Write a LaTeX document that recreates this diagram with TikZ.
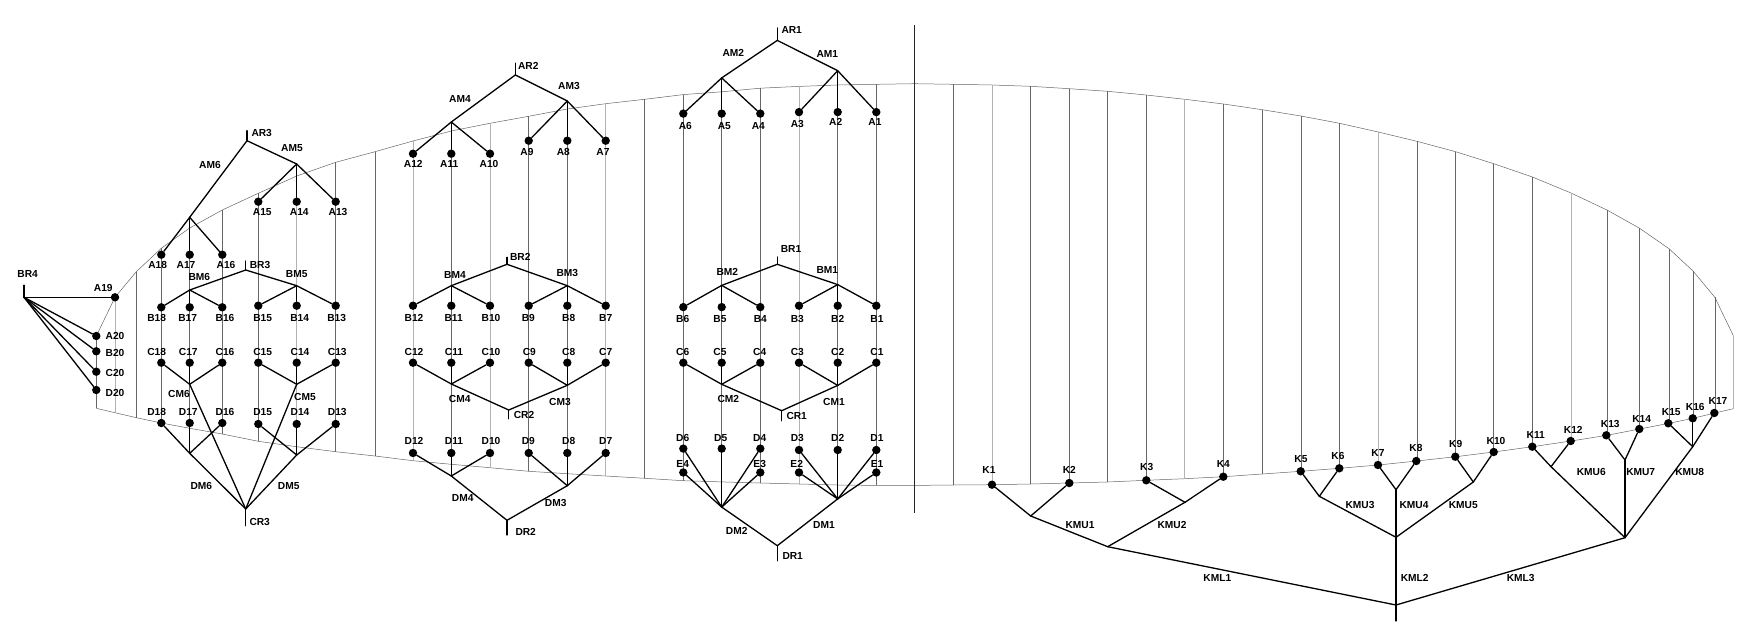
\documentclass[tikz,border=0pt]{standalone}
\usepackage{fontspec}
\setmainfont{Liberation Sans}
\tikzset{
	rib/.style={line width=0.5pt,draw=black!60},
	ribl/.style={line width=1pt,draw=black!30},
	tree/.style={line width=1.3pt,line cap=round,line join=round},
	pnt/.style={circle,fill=black,inner sep=0pt,minimum size=8.4pt},
	txt/.style={inner sep=0pt,font=\fontsize{10.2}{11}\selectfont\bfseries}
}
\begin{document}
\begin{tikzpicture}[x=1pt,y=-1pt]
		\useasboundingbox (0,0) rectangle (1754,642);
		\draw[rib] (96.3,336) -- (115,297.3) -- (136.3,271.7) -- (161.3,248.3) -- (189.7,228) -- (222.3,210) -- (258.3,193.3) -- (296.7,176) -- (335.7,162.3) -- (375,151.7) -- (413,141) -- (451.3,131) -- (490,123.3) -- (528.7,116.3) -- (567.3,109) -- (605.7,103.7) -- (644.7,99.3) -- (683.3,94.6) -- (721.7,91.8) -- (760.3,88.2) -- (799,86.4) -- (837.7,85) -- (876.3,84.3) -- (914.7,83.7) -- (953.4,84.3) -- (992,85) -- (1030.7,86.3) -- (1069.4,88.7) -- (1107.5,91.3) -- (1146.2,95) -- (1184.9,99.3) -- (1223.5,104) -- (1262.2,109.7) -- (1300.9,116) -- (1339.5,123.3) -- (1378.2,132) -- (1416.9,141.3) -- (1455.6,151.7) -- (1493.7,163.7) -- (1532.4,177) -- (1571,193) -- (1607,210) -- (1639.6,228.3) -- (1669,248.7) -- (1693,271) -- (1714.8,297.3) -- (1733.3,335.7);
		\draw[rib] (96.3,408.3) -- (115,412.7) -- (136.3,417.7) -- (161.3,423) -- (189.7,428.3) -- (222.3,434) -- (258.3,441.3) -- (296.7,446.7) -- (335.7,451.7) -- (375,456) -- (413,460.7) -- (451.3,464.3) -- (490,467.7) -- (528.7,471.3) -- (567.3,473.7) -- (605.7,476) -- (644.7,478.3) -- (683.3,480.7) -- (721.7,481.9) -- (760.3,483) -- (799,484) -- (837.7,485) -- (876.3,485.4) -- (914.7,485.4) -- (953.4,485) -- (992,484.7) -- (1030.7,484) -- (1069.4,483) -- (1107.5,482) -- (1146.2,480.3) -- (1184.9,478.7) -- (1223.5,476.7) -- (1262.2,474) -- (1300.9,471.3) -- (1339.5,468.3) -- (1378.2,465) -- (1416.9,461) -- (1455.6,456.7) -- (1493.7,452) -- (1532.4,446.7) -- (1571,441) -- (1607,435.3) -- (1639.6,429) -- (1669,423.3) -- (1693,418.3) -- (1714.8,413) -- (1733.3,408.7);
		\draw[rib] (96.3,336) -- (96.3,408.3);
		\draw[ribl] (115,297.3) -- (115,412.7);
		\draw[rib] (136.3,271.7) -- (136.3,417.7);
		\draw[rib] (161.3,248.3) -- (161.3,423);
		\draw[rib] (189.7,228) -- (189.7,428.3);
		\draw[rib] (222.3,210) -- (222.3,434);
		\draw[rib] (258.3,193.3) -- (258.3,441.3);
		\draw[ribl] (296.7,176) -- (296.7,446.7);
		\draw[rib] (335.7,162.3) -- (335.7,451.7);
		\draw[rib] (375,151.7) -- (375,456);
		\draw[ribl] (413,141) -- (413,460.7);
		\draw[rib] (451.3,131) -- (451.3,464.3);
		\draw[ribl] (490,123.3) -- (490,467.7);
		\draw[rib] (528.7,116.3) -- (528.7,471.3);
		\draw[rib] (567.3,109) -- (567.3,473.7);
		\draw[ribl] (605.7,103.7) -- (605.7,476);
		\draw[rib] (644.7,99.3) -- (644.7,478.3);
		\draw[rib] (683.3,94.6) -- (683.3,480.7);
		\draw[rib] (721.7,91.8) -- (721.7,481.9);
		\draw[rib] (760.3,88.2) -- (760.3,483);
		\draw[ribl] (799,86.4) -- (799,484);
		\draw[rib] (837.7,85) -- (837.7,485);
		\draw[rib] (876.3,84.3) -- (876.3,485.4);
		\draw[line width=0.45pt,draw=black!85] (914.7,25) -- (914.7,512.5);
		\draw[rib] (953.4,84.3) -- (953.4,485);
		\draw[ribl] (992,85) -- (992,484.7);
		\draw[rib] (1030.7,86.3) -- (1030.7,484);
		\draw[rib] (1069.4,88.7) -- (1069.4,483);
		\draw[rib] (1107.5,91.3) -- (1107.5,482);
		\draw[rib] (1146.2,95) -- (1146.2,480.3);
		\draw[ribl] (1184.9,99.3) -- (1184.9,478.7);
		\draw[rib] (1223.5,104) -- (1223.5,476.7);
		\draw[rib] (1262.2,109.7) -- (1262.2,474);
		\draw[rib] (1300.9,116) -- (1300.9,471.3);
		\draw[rib] (1339.5,123.3) -- (1339.5,468.3);
		\draw[ribl] (1378.2,132) -- (1378.2,465);
		\draw[rib] (1416.9,141.3) -- (1416.9,461);
		\draw[rib] (1455.6,151.7) -- (1455.6,456.7);
		\draw[rib] (1493.7,163.7) -- (1493.7,452);
		\draw[rib] (1532.4,177) -- (1532.4,446.7);
		\draw[ribl] (1571,193) -- (1571,441);
		\draw[rib] (1607,210) -- (1607,435.3);
		\draw[rib] (1639.6,228.3) -- (1639.6,429);
		\draw[rib] (1669,248.7) -- (1669,423.3);
		\draw[rib] (1693,271) -- (1693,418.3);
		\draw[rib] (1714.8,297.3) -- (1714.8,413);
		\draw[ribl] (1733.3,335.7) -- (1733.3,408.7);
		\coordinate (sAR1) at (777.3,27.9);
		\coordinate (AR1) at (777.3,40.4);
		\coordinate (AM2) at (721.7,77.9);
		\coordinate (AM1) at (837.7,70.7);
		\coordinate (sBR1) at (777.3,257);
		\coordinate (BR1) at (777.3,264.3);
		\coordinate (BM2) at (721.7,285.4);
		\coordinate (BM1) at (837.7,284.6);
		\coordinate (CM2) at (721.7,384.3);
		\coordinate (CM1) at (837.7,385.4);
		\coordinate (CR1) at (781.7,410.7);
		\coordinate (sCR1) at (781.7,420.7);
		\coordinate (DM2) at (721.7,507.1);
		\coordinate (DM1) at (837.7,498.9);
		\coordinate (DR1) at (777.3,545.7);
		\coordinate (sDR1) at (777.3,560.7);
		\coordinate (sAR2) at (515.3,63.3);
		\coordinate (AR2) at (515.3,75);
		\coordinate (AM4) at (451.3,122);
		\coordinate (AM3) at (567.3,101);
		\coordinate (sBR2) at (507,257.3);
		\coordinate (BR2) at (507,264.3);
		\coordinate (BM4) at (451.3,285.7);
		\coordinate (BM3) at (567.3,285.7);
		\coordinate (CM4) at (451.3,384);
		\coordinate (CM3) at (567.3,385.3);
		\coordinate (CR2) at (508.7,410);
		\coordinate (sCR2) at (508.7,418.7);
		\coordinate (DM4) at (451.3,476);
		\coordinate (DM3) at (567.3,485.7);
		\coordinate (DR2) at (507,520.3);
		\coordinate (sDR2) at (507,535);
		\coordinate (sAR3) at (247,130.7);
		\coordinate (AR3) at (247,140.7);
		\coordinate (AM6) at (189.7,217.3);
		\coordinate (AM5) at (296.7,164);
		\coordinate (sBR3) at (245.7,261);
		\coordinate (BR3) at (245.7,270);
		\coordinate (BM6) at (189.7,290);
		\coordinate (BM5) at (296.7,285.7);
		\coordinate (CM6) at (189.7,384.3);
		\coordinate (CM5) at (296.7,384.3);
		\coordinate (DM6) at (189.7,453.3);
		\coordinate (DM5) at (296.7,455);
		\coordinate (CR3) at (245.7,509);
		\coordinate (sCR3) at (245.7,525.7);
		\coordinate (sBR4) at (24,285.3);
		\coordinate (BR4) at (24,297.3);
		\coordinate (KU1) at (1030.7,516);
		\coordinate (KU2) at (1185,502.3);
		\coordinate (KL1) at (1107.7,546.7);
		\coordinate (KU3) at (1319.3,496.3);
		\coordinate (KU4) at (1396,489.7);
		\coordinate (KU5) at (1473.3,482);
		\coordinate (KJ2) at (1396,537.3);
		\coordinate (KL2) at (1396,605);
		\coordinate (sKL2) at (1396,621);
		\coordinate (KU6) at (1551,466.7);
		\coordinate (KU7) at (1625,460);
		\coordinate (KU8) at (1692.7,446.7);
		\coordinate (KJ3) at (1625,537.7);
		\node[pnt] (A1) at (876.3,112.1) {};
		\node[pnt] (A2) at (837.7,112.1) {};
		\node[pnt] (A3) at (799,112.1) {};
		\node[pnt] (A4) at (760.3,113.6) {};
		\node[pnt] (A5) at (721.7,113.6) {};
		\node[pnt] (A6) at (683.3,113.6) {};
		\node[pnt] (A7) at (605.7,140.7) {};
		\node[pnt] (A8) at (567.3,140.7) {};
		\node[pnt] (A9) at (528.7,140.7) {};
		\node[pnt] (A10) at (490,153.7) {};
		\node[pnt] (A11) at (451.3,153.7) {};
		\node[pnt] (A12) at (413,153.7) {};
		\node[pnt] (A13) at (335.7,201.7) {};
		\node[pnt] (A14) at (296.7,201.7) {};
		\node[pnt] (A15) at (258.3,201.7) {};
		\node[pnt] (A16) at (222.3,254.7) {};
		\node[pnt] (A17) at (189.7,254.7) {};
		\node[pnt] (A18) at (161.3,254.7) {};
		\node[pnt] (A19) at (115,297.3) {};
		\node[pnt] (A20) at (96.3,336) {};
		\node[pnt] (B20) at (96.3,351.3) {};
		\node[pnt] (C20) at (96.3,371.7) {};
		\node[pnt] (D20) at (96.3,390) {};
		\node[pnt] (B1) at (876.3,305.7) {};
		\node[pnt] (B2) at (837.7,305.7) {};
		\node[pnt] (B3) at (799,305.7) {};
		\node[pnt] (B4) at (760.3,307.1) {};
		\node[pnt] (B5) at (721.7,307.1) {};
		\node[pnt] (B6) at (683.3,307.1) {};
		\node[pnt] (B7) at (605.7,305.7) {};
		\node[pnt] (B8) at (567.3,305.7) {};
		\node[pnt] (B9) at (528.7,305.7) {};
		\node[pnt] (B10) at (490,305.7) {};
		\node[pnt] (B11) at (451.3,305.7) {};
		\node[pnt] (B12) at (413,305.7) {};
		\node[pnt] (B13) at (335.7,305.7) {};
		\node[pnt] (B14) at (296.7,305.7) {};
		\node[pnt] (B15) at (258.3,305.7) {};
		\node[pnt] (B16) at (222.3,307.3) {};
		\node[pnt] (B17) at (189.7,307.3) {};
		\node[pnt] (B18) at (161.3,307.3) {};
		\node[pnt] (C1) at (876.3,362.7) {};
		\node[pnt] (C2) at (837.7,362.7) {};
		\node[pnt] (C3) at (799,362.7) {};
		\node[pnt] (C4) at (760.3,362.7) {};
		\node[pnt] (C5) at (721.7,362.7) {};
		\node[pnt] (C6) at (683.3,362.7) {};
		\node[pnt] (C7) at (605.7,362.7) {};
		\node[pnt] (C8) at (567.3,362.7) {};
		\node[pnt] (C9) at (528.7,362.7) {};
		\node[pnt] (C10) at (490,362.7) {};
		\node[pnt] (C11) at (451.3,362.7) {};
		\node[pnt] (C12) at (413,362.7) {};
		\node[pnt] (C13) at (335.7,362.7) {};
		\node[pnt] (C14) at (296.7,362.7) {};
		\node[pnt] (C15) at (258.3,362.7) {};
		\node[pnt] (C16) at (222.3,362.7) {};
		\node[pnt] (C17) at (189.7,362.7) {};
		\node[pnt] (C18) at (161.3,362.7) {};
		\node[pnt] (D1) at (876.3,450) {};
		\node[pnt] (D2) at (837.7,450) {};
		\node[pnt] (D3) at (799,450) {};
		\node[pnt] (D4) at (760.3,448.6) {};
		\node[pnt] (D5) at (721.7,448.6) {};
		\node[pnt] (D6) at (683.3,448.6) {};
		\node[pnt] (D7) at (605.7,453) {};
		\node[pnt] (D8) at (567.3,453) {};
		\node[pnt] (D9) at (528.7,453) {};
		\node[pnt] (D10) at (490,453) {};
		\node[pnt] (D11) at (451.3,453) {};
		\node[pnt] (D12) at (413,453) {};
		\node[pnt] (D13) at (335.7,424) {};
		\node[pnt] (D14) at (296.7,424) {};
		\node[pnt] (D15) at (258.3,424) {};
		\node[pnt] (D16) at (222.3,423) {};
		\node[pnt] (D17) at (189.7,423) {};
		\node[pnt] (D18) at (161.3,423) {};
		\node[pnt] (E1) at (876.3,472.5) {};
		\node[pnt] (E2) at (799,472.5) {};
		\node[pnt] (E3) at (760.3,472.5) {};
		\node[pnt] (E4) at (683.3,472.5) {};
		\node[pnt] (K1) at (992,484.7) {};
		\node[pnt] (K2) at (1069.3,483) {};
		\node[pnt] (K3) at (1146.3,480.3) {};
		\node[pnt] (K4) at (1223.3,476.7) {};
		\node[pnt] (K5) at (1300.7,471.3) {};
		\node[pnt] (K6) at (1339.3,468.3) {};
		\node[pnt] (K7) at (1378,465) {};
		\node[pnt] (K8) at (1416.3,461) {};
		\node[pnt] (K9) at (1455.3,456.7) {};
		\node[pnt] (K10) at (1493.7,452) {};
		\node[pnt] (K11) at (1532.3,446.7) {};
		\node[pnt] (K12) at (1570.7,441) {};
		\node[pnt] (K13) at (1606.3,435.3) {};
		\node[pnt] (K14) at (1639.3,429) {};
		\node[pnt] (K15) at (1668.3,423.3) {};
		\node[pnt] (K16) at (1692.7,418.3) {};
		\node[pnt] (K17) at (1714.3,413) {};
		\draw[tree] (sAR1) -- (AR1);
		\draw[tree] (AR1) -- (AM2);
		\draw[tree] (AR1) -- (AM1);
		\draw[tree] (AM2) -- (A6);
		\draw[tree] (AM2) -- (A5);
		\draw[tree] (AM2) -- (A4);
		\draw[tree] (AM1) -- (A3);
		\draw[tree] (AM1) -- (A2);
		\draw[tree] (AM1) -- (A1);
		\draw[tree] (sBR1) -- (BR1);
		\draw[tree] (BR1) -- (BM2);
		\draw[tree] (BR1) -- (BM1);
		\draw[tree] (BM2) -- (B6);
		\draw[tree] (BM2) -- (B5);
		\draw[tree] (BM2) -- (B4);
		\draw[tree] (BM1) -- (B3);
		\draw[tree] (BM1) -- (B2);
		\draw[tree] (BM1) -- (B1);
		\draw[tree] (sCR1) -- (CR1);
		\draw[tree] (CR1) -- (CM2);
		\draw[tree] (CR1) -- (CM1);
		\draw[tree] (CM2) -- (C6);
		\draw[tree] (CM2) -- (C5);
		\draw[tree] (CM2) -- (C4);
		\draw[tree] (CM1) -- (C3);
		\draw[tree] (CM1) -- (C2);
		\draw[tree] (CM1) -- (C1);
		\draw[tree] (sDR1) -- (DR1);
		\draw[tree] (DR1) -- (DM2);
		\draw[tree] (DR1) -- (DM1);
		\draw[tree] (DM2) -- (D6);
		\draw[tree] (DM2) -- (D5);
		\draw[tree] (DM2) -- (D4);
		\draw[tree] (DM2) -- (E4);
		\draw[tree] (DM2) -- (E3);
		\draw[tree] (DM1) -- (D3);
		\draw[tree] (DM1) -- (D2);
		\draw[tree] (DM1) -- (D1);
		\draw[tree] (DM1) -- (E2);
		\draw[tree] (DM1) -- (E1);
		\draw[tree] (sAR2) -- (AR2);
		\draw[tree] (AR2) -- (AM4);
		\draw[tree] (AR2) -- (AM3);
		\draw[tree] (AM4) -- (A12);
		\draw[tree] (AM4) -- (A11);
		\draw[tree] (AM4) -- (A10);
		\draw[tree] (AM3) -- (A9);
		\draw[tree] (AM3) -- (A8);
		\draw[tree] (AM3) -- (A7);
		\draw[tree] (sBR2) -- (BR2);
		\draw[tree] (BR2) -- (BM4);
		\draw[tree] (BR2) -- (BM3);
		\draw[tree] (BM4) -- (B12);
		\draw[tree] (BM4) -- (B11);
		\draw[tree] (BM4) -- (B10);
		\draw[tree] (BM3) -- (B9);
		\draw[tree] (BM3) -- (B8);
		\draw[tree] (BM3) -- (B7);
		\draw[tree] (sCR2) -- (CR2);
		\draw[tree] (CR2) -- (CM4);
		\draw[tree] (CR2) -- (CM3);
		\draw[tree] (CM4) -- (C12);
		\draw[tree] (CM4) -- (C11);
		\draw[tree] (CM4) -- (C10);
		\draw[tree] (CM3) -- (C9);
		\draw[tree] (CM3) -- (C8);
		\draw[tree] (CM3) -- (C7);
		\draw[tree] (sDR2) -- (DR2);
		\draw[tree] (DR2) -- (DM4);
		\draw[tree] (DR2) -- (DM3);
		\draw[tree] (DM4) -- (D12);
		\draw[tree] (DM4) -- (D11);
		\draw[tree] (DM4) -- (D10);
		\draw[tree] (DM3) -- (D9);
		\draw[tree] (DM3) -- (D8);
		\draw[tree] (DM3) -- (D7);
		\draw[tree] (sAR3) -- (AR3);
		\draw[tree] (AR3) -- (AM6);
		\draw[tree] (AR3) -- (AM5);
		\draw[tree] (AM6) -- (A18);
		\draw[tree] (AM6) -- (A17);
		\draw[tree] (AM6) -- (A16);
		\draw[tree] (AM5) -- (A15);
		\draw[tree] (AM5) -- (A14);
		\draw[tree] (AM5) -- (A13);
		\draw[tree] (sBR3) -- (BR3);
		\draw[tree] (BR3) -- (BM6);
		\draw[tree] (BR3) -- (BM5);
		\draw[tree] (BM6) -- (B18);
		\draw[tree] (BM6) -- (B17);
		\draw[tree] (BM6) -- (B16);
		\draw[tree] (BM5) -- (B15);
		\draw[tree] (BM5) -- (B14);
		\draw[tree] (BM5) -- (B13);
		\draw[tree] (sCR3) -- (CR3);
		\draw[tree] (CR3) -- (CM6);
		\draw[tree] (CR3) -- (CM5);
		\draw[tree] (CR3) -- (DM6);
		\draw[tree] (CR3) -- (DM5);
		\draw[tree] (CM6) -- (C18);
		\draw[tree] (CM6) -- (C17);
		\draw[tree] (CM6) -- (C16);
		\draw[tree] (CM5) -- (C15);
		\draw[tree] (CM5) -- (C14);
		\draw[tree] (CM5) -- (C13);
		\draw[tree] (DM6) -- (D18);
		\draw[tree] (DM6) -- (D17);
		\draw[tree] (DM6) -- (D16);
		\draw[tree] (DM5) -- (D15);
		\draw[tree] (DM5) -- (D14);
		\draw[tree] (DM5) -- (D13);
		\draw[tree] (sBR4) -- (BR4);
		\draw[tree] (BR4) -- (A19);
		\draw[tree] (BR4) -- (A20);
		\draw[tree] (BR4) -- (B20);
		\draw[tree] (BR4) -- (C20);
		\draw[tree] (BR4) -- (D20);
		\draw[tree] (K1) -- (KU1);
		\draw[tree] (K2) -- (KU1);
		\draw[tree] (KU1) -- (KL1);
		\draw[tree] (K3) -- (KU2);
		\draw[tree] (K4) -- (KU2);
		\draw[tree] (KU2) -- (KL1);
		\draw[tree] (KL1) -- (KL2);
		\draw[tree] (K5) -- (KU3);
		\draw[tree] (K6) -- (KU3);
		\draw[tree] (KU3) -- (KJ2);
		\draw[tree] (K7) -- (KU4);
		\draw[tree] (K8) -- (KU4);
		\draw[tree] (KU4) -- (KJ2);
		\draw[tree] (K9) -- (KU5);
		\draw[tree] (K10) -- (KU5);
		\draw[tree] (KU5) -- (KJ2);
		\draw[tree] (KJ2) -- (KL2);
		\draw[tree] (KL2) -- (sKL2);
		\draw[tree] (KL2) -- (KJ3);
		\draw[tree] (K11) -- (KU6);
		\draw[tree] (K12) -- (KU6);
		\draw[tree] (KU6) -- (KJ3);
		\draw[tree] (K13) -- (KU7);
		\draw[tree] (K14) -- (KU7);
		\draw[tree] (KU7) -- (KJ3);
		\draw[tree] (K15) -- (KU8);
		\draw[tree] (K16) -- (KU8);
		\draw[tree] (K17) -- (KU8);
		\draw[tree] (KU8) -- (KJ3);
		\node[txt] (lAR1) at (791.7,30.4) {AR1};
		\node[txt] (lAM2) at (733.3,52.9) {AM2};
		\node[txt] (lAM1) at (827.3,53.6) {AM1};
		\node[txt] (lA6) at (685.3,126) {A6};
		\node[txt] (lA5) at (724.3,126) {A5};
		\node[txt] (lA4) at (758.3,126) {A4};
		\node[txt] (lA3) at (797.3,123.6) {A3};
		\node[txt] (lA2) at (835.7,122) {A2};
		\node[txt] (lA1) at (875,122) {A1};
		\node[txt] (lBR1) at (791,248.6) {BR1};
		\node[txt] (lBM2) at (727.3,272.1) {BM2};
		\node[txt] (lBM1) at (827.3,270.4) {BM1};
		\node[txt] (lB6) at (682.7,319) {B6};
		\node[txt] (lB5) at (720,319) {B5};
		\node[txt] (lB4) at (760.3,319) {B4};
		\node[txt] (lB3) at (797.3,319) {B3};
		\node[txt] (lB2) at (837.7,319) {B2};
		\node[txt] (lB1) at (877,319) {B1};
		\node[txt] (lC6) at (682.7,352) {C6};
		\node[txt] (lC5) at (720,352) {C5};
		\node[txt] (lC4) at (759.7,352) {C4};
		\node[txt] (lC3) at (797.3,352) {C3};
		\node[txt] (lC2) at (837.7,352) {C2};
		\node[txt] (lC1) at (877,352) {C1};
		\node[txt] (lCM2) at (728.3,399.3) {CM2};
		\node[txt] (lCM1) at (834,401.8) {CM1};
		\node[txt] (lCR1) at (796.7,415.7) {CR1};
		\node[txt] (lD6) at (682.7,438.2) {D6};
		\node[txt] (lD5) at (720.7,438.2) {D5};
		\node[txt] (lD4) at (759.7,438.2) {D4};
		\node[txt] (lD3) at (797.3,438.2) {D3};
		\node[txt] (lD2) at (837.7,438.2) {D2};
		\node[txt] (lD1) at (877,438.2) {D1};
		\node[txt] (lE4) at (682.7,463.6) {E4};
		\node[txt] (lE3) at (759.7,463.6) {E3};
		\node[txt] (lE2) at (796.7,463.6) {E2};
		\node[txt] (lE1) at (877,463.6) {E1};
		\node[txt] (lDM2) at (736.7,531) {DM2};
		\node[txt] (lDM1) at (824,525.4) {DM1};
		\node[txt] (lDR1) at (792.7,556.4) {DR1};
		\node[txt] (lAR2) at (528.3,66) {AR2};
		\node[txt] (lAM4) at (460,99.3) {AM4};
		\node[txt] (lAM3) at (569,86) {AM3};
		\node[txt] (lA12) at (413.3,164.3) {A12};
		\node[txt] (lA11) at (449.3,164.3) {A11};
		\node[txt] (lA10) at (489,164.3) {A10};
		\node[txt] (lA9) at (527,152.3) {A9};
		\node[txt] (lA8) at (563.3,152.3) {A8};
		\node[txt] (lA7) at (603,152.3) {A7};
		\node[txt] (lBR2) at (520.3,257.3) {BR2};
		\node[txt] (lBM4) at (455,275) {BM4};
		\node[txt] (lBM3) at (567.3,273) {BM3};
		\node[txt] (lB12) at (414,318.3) {B12};
		\node[txt] (lB11) at (453.7,318.3) {B11};
		\node[txt] (lB10) at (491,318.3) {B10};
		\node[txt] (lB9) at (528.3,318.3) {B9};
		\node[txt] (lB8) at (568.7,318.3) {B8};
		\node[txt] (lB7) at (605.7,318.3) {B7};
		\node[txt] (lC12) at (414,352.3) {C12};
		\node[txt] (lC11) at (454,352.3) {C11};
		\node[txt] (lC10) at (491,352.3) {C10};
		\node[txt] (lC9) at (529.3,352.3) {C9};
		\node[txt] (lC8) at (568.7,352.3) {C8};
		\node[txt] (lC7) at (605.7,352.3) {C7};
		\node[txt] (lCM4) at (459.7,399) {CM4};
		\node[txt] (lCM3) at (560,402) {CM3};
		\node[txt] (lCR2) at (524,415) {CR2};
		\node[txt] (lD12) at (414,441) {D12};
		\node[txt] (lD11) at (454,441) {D11};
		\node[txt] (lD10) at (491,441) {D10};
		\node[txt] (lD9) at (528.3,441) {D9};
		\node[txt] (lD8) at (568.7,441) {D8};
		\node[txt] (lD7) at (605.7,441) {D7};
		\node[txt] (lDM4) at (462.7,498.3) {DM4};
		\node[txt] (lDM3) at (555.7,503) {DM3};
		\node[txt] (lDR2) at (525.7,532) {DR2};
		\node[txt] (lAR3) at (261.7,133.3) {AR3};
		\node[txt] (lAM5) at (292,148.3) {AM5};
		\node[txt] (lAM6) at (210,165.3) {AM6};
		\node[txt] (lA15) at (262.3,212.3) {A15};
		\node[txt] (lA14) at (299.3,212.3) {A14};
		\node[txt] (lA13) at (338,212.3) {A13};
		\node[txt] (lA18) at (157.7,265.3) {A18};
		\node[txt] (lA17) at (186,265.3) {A17};
		\node[txt] (lA16) at (226,265.3) {A16};
		\node[txt] (lBR3) at (260,265.3) {BR3};
		\node[txt] (lBM6) at (199.3,277.3) {BM6};
		\node[txt] (lBM5) at (296.7,274) {BM5};
		\node[txt] (lBR4) at (27.7,273.7) {BR4};
		\node[txt] (lA19) at (103.3,287.7) {A19};
		\node[txt] (lA20) at (115,336) {A20};
		\node[txt] (lB20) at (115,353.3) {B20};
		\node[txt] (lC20) at (115,373) {C20};
		\node[txt] (lD20) at (115,393) {D20};
		\node[txt] (lB18) at (156.7,318) {B18};
		\node[txt] (lB17) at (187.7,318) {B17};
		\node[txt] (lB16) at (225,318) {B16};
		\node[txt] (lB15) at (262.7,318) {B15};
		\node[txt] (lB14) at (299.7,318) {B14};
		\node[txt] (lB13) at (336.7,318) {B13};
		\node[txt] (lC18) at (156.7,352.3) {C18};
		\node[txt] (lC17) at (188.3,352.3) {C17};
		\node[txt] (lC16) at (225,352.3) {C16};
		\node[txt] (lC15) at (262.7,352.3) {C15};
		\node[txt] (lC14) at (300,352.3) {C14};
		\node[txt] (lC13) at (337.3,352.3) {C13};
		\node[txt] (lCM6) at (179,394) {CM6};
		\node[txt] (lCM5) at (305,397.3) {CM5};
		\node[txt] (lD18) at (156.7,412.3) {D18};
		\node[txt] (lD17) at (188.3,412.3) {D17};
		\node[txt] (lD16) at (225,412.3) {D16};
		\node[txt] (lD15) at (262.7,412.3) {D15};
		\node[txt] (lD14) at (300,412.3) {D14};
		\node[txt] (lD13) at (337.3,412.3) {D13};
		\node[txt] (lDM6) at (201.3,486) {DM6};
		\node[txt] (lDM5) at (288.7,486) {DM5};
		\node[txt] (lCR3) at (259.7,522.3) {CR3};
		\node[txt] (lK1) at (989,470.3) {K1};
		\node[txt] (lK2) at (1069.3,470.3) {K2};
		\node[txt] (lK3) at (1146.7,467.3) {K3};
		\node[txt] (lK4) at (1223.3,464) {K4};
		\node[txt] (lK5) at (1301,459) {K5};
		\node[txt] (lK6) at (1338,456) {K6};
		\node[txt] (lK7) at (1378,453.3) {K7};
		\node[txt] (lK8) at (1416,448.3) {K8};
		\node[txt] (lK9) at (1455.7,444.3) {K9};
		\node[txt] (lK10) at (1496,441) {K10};
		\node[txt] (lK11) at (1535.7,435.3) {K11};
		\node[txt] (lK12) at (1573.3,430.3) {K12};
		\node[txt] (lK13) at (1610.3,424) {K13};
		\node[txt] (lK14) at (1641.7,419.3) {K14};
		\node[txt] (lK15) at (1671.3,412.3) {K15};
		\node[txt] (lK16) at (1695.3,407.3) {K16};
		\node[txt] (lK17) at (1718,401.3) {K17};
		\node[txt] (lKMU1) at (1080,525) {KMU1};
		\node[txt] (lKMU2) at (1172,525) {KMU2};
		\node[txt] (lKMU3) at (1360,505.3) {KMU3};
		\node[txt] (lKMU4) at (1414,505.3) {KMU4};
		\node[txt] (lKMU5) at (1463.3,505.3) {KMU5};
		\node[txt] (lKMU6) at (1591.3,472.3) {KMU6};
		\node[txt] (lKMU7) at (1640.7,472.3) {KMU7};
		\node[txt] (lKMU8) at (1689.7,472.3) {KMU8};
		\node[txt] (lKML1) at (1217.3,578) {KML1};
		\node[txt] (lKML2) at (1414.7,578.3) {KML2};
		\node[txt] (lKML3) at (1520.7,578.3) {KML3};
	\end{tikzpicture}
\end{document}
